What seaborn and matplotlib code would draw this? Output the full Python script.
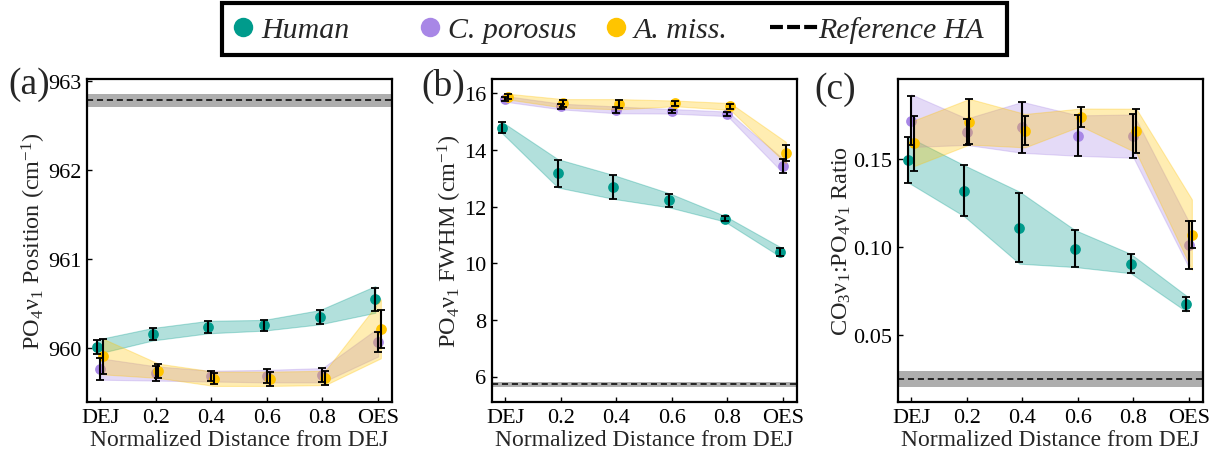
import numpy as np
import pandas as pd
import matplotlib
matplotlib.use("Agg")
import matplotlib.pyplot as plt
from matplotlib.lines import Line2D
from matplotlib.patches import Rectangle
import seaborn as sns

# ---- data -------------------------------------------------------------
x_pos = [0.0, 0.2, 0.4, 0.6, 0.8, 1.0]
x_ticklabels = ["DEJ", "0.2", "0.4", "0.6", "0.8", "OES"]

species = ["Human", "C. porosus", "A. miss."]
species_colors = ["#009B8C", "#A887E6", "#FFC400"]
species_offsets = [-0.01, 0.0, 0.01]

# (a) PO4 v1 position (cm^-1)
pos_human = [960.02, 960.16, 960.24, 960.26, 960.35, 960.55]
pos_human_err = [0.08, 0.07, 0.07, 0.06, 0.08, 0.13]
pos_human_band = [0.08, 0.07, 0.07, 0.06, 0.08, 0.15]
pos_cpor = [959.77, 959.72, 959.69, 959.69, 959.70, 960.07]
pos_cpor_err = [0.12, 0.08, 0.06, 0.08, 0.08, 0.11]
pos_cpor_band = [0.12, 0.08, 0.06, 0.07, 0.08, 0.16]
pos_amis = [959.91, 959.75, 959.66, 959.66, 959.67, 960.22]
pos_amis_err = [0.20, 0.08, 0.06, 0.08, 0.08, 0.21]
pos_amis_band = [0.20, 0.08, 0.08, 0.08, 0.08, 0.33]
pos_ref, pos_ref_sd = 962.78, 0.07

# (b) PO4 v1 FWHM (cm^-1)
fw_human = [14.78, 13.17, 12.69, 12.22, 11.57, 10.40]
fw_human_err = [0.20, 0.48, 0.42, 0.23, 0.08, 0.15]
fw_human_band = [0.20, 0.50, 0.42, 0.25, 0.10, 0.17]
fw_cpor = [15.80, 15.53, 15.41, 15.36, 15.27, 13.43]
fw_cpor_err = [0.08, 0.08, 0.10, 0.06, 0.06, 0.25]
fw_cpor_band = [0.10, 0.10, 0.12, 0.08, 0.08, 0.25]
fw_amis = [15.88, 15.64, 15.61, 15.64, 15.53, 13.90]
fw_amis_err = [0.10, 0.12, 0.15, 0.08, 0.10, 0.28]
fw_amis_band = [0.10, 0.15, 0.18, 0.10, 0.12, 0.38]
fw_ref, fw_ref_sd = 5.72, 0.08

# (c) CO3 v1 : PO4 v1 ratio
rt_human = [0.1496, 0.1320, 0.1109, 0.0990, 0.0905, 0.0677]
rt_human_err = [0.0130, 0.0145, 0.0195, 0.0104, 0.0052, 0.0040]
rt_human_band = [0.0130, 0.0145, 0.0205, 0.0105, 0.0055, 0.0045]
rt_cpor = [0.1718, 0.1655, 0.1680, 0.1633, 0.1630, 0.1010]
rt_cpor_err = [0.0140, 0.0075, 0.0145, 0.0115, 0.0123, 0.0137]
rt_cpor_band = [0.0150, 0.0075, 0.0145, 0.0115, 0.0123, 0.0130]
rt_amis = [0.1589, 0.1712, 0.1661, 0.1737, 0.1661, 0.1070]
rt_amis_err = [0.0155, 0.0128, 0.0083, 0.0057, 0.0125, 0.0076]
rt_amis_band = [0.0130, 0.0130, 0.0095, 0.0050, 0.0125, 0.0200]
rt_ref, rt_ref_sd = 0.0247, 0.0045

# ---- style ------------------------------------------------------------
sns.set_theme(style="ticks")
plt.rcParams.update({
    "font.family": ["Liberation Serif", "DejaVu Serif"],
    "mathtext.fontset": "custom",
    "mathtext.rm": "Liberation Serif",
    "mathtext.it": "Liberation Serif:italic",
    "mathtext.bf": "Liberation Serif:bold",
    "axes.linewidth": 1.6,
    "axes.edgecolor": "black",
    "xtick.direction": "in",
    "ytick.direction": "in",
    "xtick.major.size": 3.5,
    "ytick.major.size": 3.5,
    "xtick.major.width": 1.0,
    "ytick.major.width": 1.0,
    "xtick.color": "black",
    "ytick.color": "black",
    "font.size": 16,
})

panels = [
    dict(means=[pos_human, pos_cpor, pos_amis],
         errs=[pos_human_err, pos_cpor_err, pos_amis_err],
         bands=[pos_human_band, pos_cpor_band, pos_amis_band],
         ref=pos_ref, ref_sd=pos_ref_sd,
         ylim=(959.4, 963.02), yticks=[960, 961, 962, 963],
         yfmt="{:.0f}",
         ylabel="PO$_4$ν$_1$ Position (cm$^{-1}$)"),
    dict(means=[fw_human, fw_cpor, fw_amis],
         errs=[fw_human_err, fw_cpor_err, fw_amis_err],
         bands=[fw_human_band, fw_cpor_band, fw_amis_band],
         ref=fw_ref, ref_sd=fw_ref_sd,
         ylim=(5.1, 16.5), yticks=[6, 8, 10, 12, 14, 16],
         yfmt="{:.0f}",
         ylabel="PO$_4$ν$_1$ FWHM (cm$^{-1}$)"),
    dict(means=[rt_human, rt_cpor, rt_amis],
         errs=[rt_human_err, rt_cpor_err, rt_amis_err],
         bands=[rt_human_band, rt_cpor_band, rt_amis_band],
         ref=rt_ref, ref_sd=rt_ref_sd,
         ylim=(0.0117, 0.1955), yticks=[0.05, 0.10, 0.15],
         yfmt="{:.2f}",
         ylabel="CO$_3$ν$_1$:PO$_4$ν$_1$ Ratio"),
]

fig = plt.figure(figsize=(12.18, 4.52), dpi=100)
W, H = 1218, 452
ax_lefts = [87, 492, 898]
ax_w, ax_top, ax_bot = 305, 80, 403
panel_tags = ["(a)", "(b)", "(c)"]
tag_xy = [(8, 85), (421, 86), (814, 90)]

x_arr = np.array(x_pos)
for p, left, tag, (tx, ty) in zip(panels, ax_lefts, panel_tags, tag_xy):
    ax = fig.add_axes([left / W, 1 - ax_bot / H, ax_w / W, (ax_bot - ax_top) / H])

    # reference hydroxyapatite value
    ax.axhspan(p["ref"] - p["ref_sd"], p["ref"] + p["ref_sd"],
               color="#8c8c8c", alpha=0.7, lw=0)
    ax.axhline(p["ref"], color="black", ls="--", lw=1.1, dashes=(4, 2.5))

    for name, col, off, m, e, b in zip(species, species_colors, species_offsets,
                                        p["means"], p["errs"], p["bands"]):
        m = np.array(m); e = np.array(e); b = np.array(b)
        xs = x_arr + off
        ax.fill_between(xs, m - b, m + b, color=col, alpha=0.3, lw=0.8)
        df = pd.DataFrame({"x": xs, "y": m})
        sns.scatterplot(data=df, x="x", y="y", color=col, s=60,
                        linewidth=0, ax=ax, legend=False)
        ax.errorbar(xs, m, yerr=e, fmt="none", ecolor="black",
                    elinewidth=1.5, capsize=3, capthick=1.3)

    ax.set_xlim(-0.047, 1.05)
    ax.set_ylim(*p["ylim"])
    ax.set_xticks(x_pos)
    ax.set_xticklabels(x_ticklabels)
    ax.set_yticks(p["yticks"])
    ax.set_yticklabels([p["yfmt"].format(v) for v in p["yticks"]])
    ax.tick_params(axis="both", labelsize=16, pad=4)
    ax.set_xlabel("Normalized Distance from DEJ", fontsize=17, labelpad=2)
    ax.set_ylabel(p["ylabel"], fontsize=17.5, labelpad=0)
    for s in ax.spines.values():
        s.set_visible(True)
        s.set_linewidth(1.6)

    fig.text(tx / W, 1 - ty / H, tag, fontsize=27, ha="left", va="center")

# ---- legend: framed strip across the top ---------------------------------
leg_box = (222, 4, 1007, 56)  # left, top, right, bottom in pixels
fig.add_artist(Rectangle((leg_box[0] / W, 1 - leg_box[3] / H),
                         (leg_box[2] - leg_box[0]) / W,
                         (leg_box[3] - leg_box[1]) / H,
                         transform=fig.transFigure, facecolor="white",
                         edgecolor="black", linewidth=3, zorder=5))

handles = [Line2D([], [], ls="none", marker="o", markersize=14,
                  markerfacecolor=c, markeredgewidth=0, label=n)
           for n, c in zip(species, species_colors)]
handles.append(Line2D([], [], color="black", ls="--", lw=3,
                      dashes=(3.1, 1.0), label="Reference HA"))
entry_x = [228, 415, 601, 770]
entry_hlen = [1.0, 1.0, 1.0, 1.6]
entry_pad = [0.1, 0.1, 0.1, 0.0]
leg_y = 1 - 31 / H
for h, ex, hl, tp in zip(handles, entry_x, entry_hlen, entry_pad):
    lg = fig.legend(handles=[h], loc="center left",
                    bbox_to_anchor=(ex / W, leg_y), frameon=False,
                    borderpad=0, borderaxespad=0, handlelength=hl,
                    handletextpad=tp,
                    prop={"family": "Liberation Serif", "style": "italic",
                          "size": 21.5})
    lg.set_zorder(6)

fig.savefig("out.png", dpi=100)
